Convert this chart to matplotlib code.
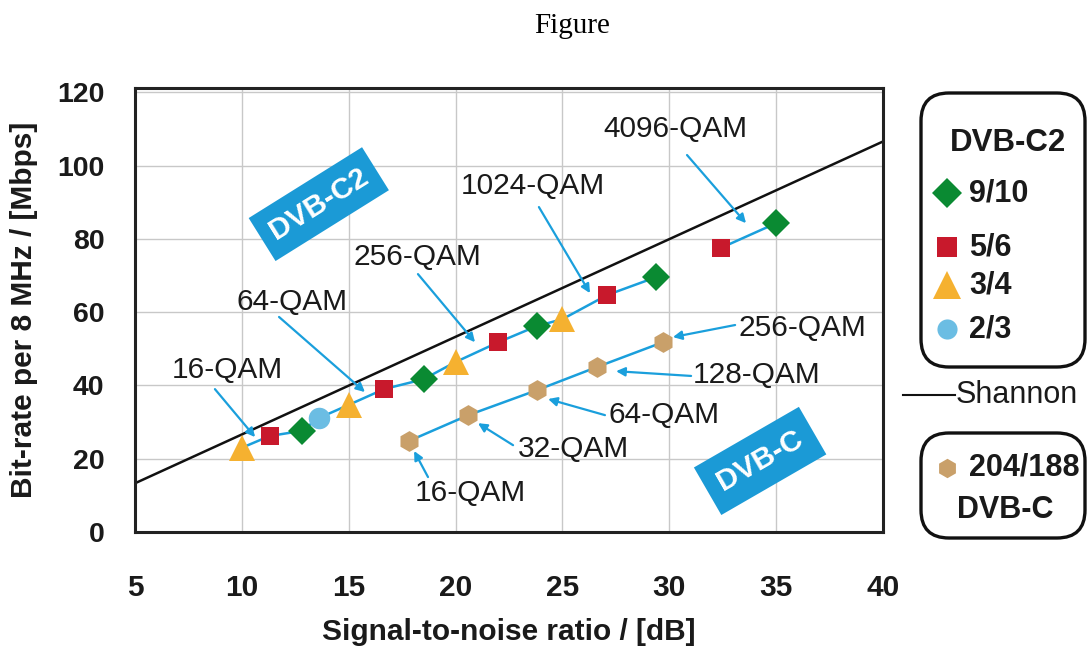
import matplotlib
matplotlib.use("Agg")
import matplotlib.pyplot as plt
from matplotlib.patches import FancyBboxPatch

plt.rcParams['font.family'] = ['Liberation Sans', 'DejaVu Sans']

# DVB-C2 operating points: SNR [dB], bit-rate [Mbps], code rate
c2_snr = [10.0, 11.3, 12.8, 13.6, 15.0, 16.65, 18.5, 20.0, 22.0, 23.8, 25.0, 27.1, 29.4, 32.4, 35.0]
c2_rate = [23.0, 26.2, 27.6, 31.1, 34.7, 39.0, 41.7, 46.4, 51.8, 56.2, 58.1, 64.7, 69.6, 77.5, 84.3]
c2_code = ['3/4', '5/6', '9/10', '2/3', '3/4', '5/6', '9/10', '3/4', '5/6', '9/10',
           '3/4', '5/6', '9/10', '5/6', '9/10']

# DVB-C operating points (204/188)
c_snr = [17.8, 20.6, 23.8, 26.6, 29.7]
c_rate = [24.8, 31.9, 38.7, 45.0, 51.8]

# Shannon limit, end points
shannon_snr = [5, 40]
shannon_rate = [13.3, 106.6]

c2_qam = ['16-QAM', '64-QAM', '256-QAM', '1024-QAM', '4096-QAM']
c_qam = ['16-QAM', '32-QAM', '64-QAM', '128-QAM', '256-QAM']

codes = ['9/10', '5/6', '3/4', '2/3']

# --- style / layout -------------------------------------------------------
blue = '#1a9fdc'
box_blue = '#1b9ad6'
txt = '#1a1a1a'
styles = {
    '9/10': dict(marker='D', color='#0a8a32', ms=14),
    '5/6': dict(marker='s', color='#c8192c', ms=13.5),
    '3/4': dict(marker='^', color='#f5b130', ms=19),
    '2/3': dict(marker='o', color='#6bbde3', ms=15.5),
}
hex_style = dict(marker='h', color='#c9a06a', ms=15)
leg_ms = {'9/10': 15, '5/6': 14, '3/4': 20, '2/3': 14.5}

# (text pos, arrow tail, arrow head) in data units
c2_ann = [((9.3, 44.2), (8.74, 39.0), (10.62, 25.9)),
          ((12.35, 62.8), (11.74, 58.7), (15.76, 38.2)),
          ((18.2, 75.0), (18.24, 70.4), (20.91, 51.8)),
          ((23.62, 94.4), (23.9, 88.7), (26.29, 65.2)),
          ((30.31, 110.0), (30.83, 102.9), (33.59, 84.3))]
c_ann = [((20.68, 10.6), (18.71, 15.0), (18.06, 22.1)),
         ((25.5, 22.6), (22.69, 23.7), (21.05, 29.7)),
         ((29.75, 31.9), (26.99, 31.9), (24.33, 36.3)),
         ((34.1, 42.8), (31.02, 42.6), (27.51, 43.9)),
         ((36.21, 55.7), (33.08, 56.5), (30.17, 53.2))]

fig = plt.figure(figsize=(10.88, 6.46), dpi=100)
ax = fig.add_axes([135/1088, 1 - 532/646, (883-135)/1088, (532-88)/646])

ax.set_xlim(5, 40)
ax.set_ylim(0, 121.2)
ax.set_xticks([5, 10, 15, 20, 25, 30, 35, 40])
ax.set_yticks([0, 20, 40, 60, 80, 100, 120])
ax.tick_params(length=0, labelcolor=txt)
ax.tick_params(axis='x', pad=30, labelsize=21.5)
ax.tick_params(axis='y', pad=22, labelsize=20.5)
for lab in ax.get_xticklabels() + ax.get_yticklabels():
    lab.set_fontweight('bold')
for sp in ax.spines.values():
    sp.set_linewidth(2.2)
    sp.set_color('#222222')
ax.grid(True, color='#c8c8c8', lw=1)
ax.set_axisbelow(True)

ax.set_xlabel('Signal-to-noise ratio / [dB]', fontsize=21.5, fontweight='bold',
              labelpad=12, color=txt)
ax.set_ylabel('Bit-rate per 8 MHz / [Mbps]', fontsize=21.5, fontweight='bold',
              labelpad=14, color=txt)

# Shannon line
ax.plot(shannon_snr, shannon_rate, color='#111111', lw=1.8, zorder=2)

# connecting lines
ax.plot(c2_snr[:13], c2_rate[:13], color=blue, lw=1.8, zorder=3)
ax.plot(c2_snr[13:], c2_rate[13:], color=blue, lw=1.8, zorder=3)
ax.plot(c_snr, c_rate, color=blue, lw=1.8, zorder=3)

for code in codes:
    st = styles[code]
    xs = [x for x, c in zip(c2_snr, c2_code) if c == code]
    ys = [y for y, c in zip(c2_rate, c2_code) if c == code]
    ax.plot(xs, ys, ls='none', marker=st['marker'], color=st['color'],
            ms=st['ms'], mew=0, zorder=4)
ax.plot(c_snr, c_rate, ls='none', marker=hex_style['marker'], color=hex_style['color'],
        ms=hex_style['ms'], mew=0, zorder=4)

arrow = dict(arrowstyle='-|>', color=blue, lw=1.6, mutation_scale=13, shrinkA=0, shrinkB=0)
for lab, (txy, tail, head) in zip(c2_qam + c_qam, c2_ann + c_ann):
    ax.annotate('', xy=head, xytext=tail, arrowprops=arrow, zorder=3)
    ax.text(txy[0], txy[1], lab, ha='center', va='center', fontsize=21.5, color=txt)

# rotated blue labels
ax.text(13.6, 89.5, 'DVB-C2', rotation=32, rotation_mode='anchor', ha='center', va='center',
        fontsize=21.5, fontweight='bold', color='white',
        bbox=dict(boxstyle='square,pad=0.38', fc=box_blue, ec='none'))
ax.text(34.25, 19.4, 'DVB-C', rotation=30, rotation_mode='anchor', ha='center', va='center',
        fontsize=21.5, fontweight='bold', color='white',
        bbox=dict(boxstyle='square,pad=0.45', fc=box_blue, ec='none'))

# overlay in pixel coordinates for title and legend
ov = fig.add_axes([0, 0, 1, 1])
ov.set_xlim(0, 1088)
ov.set_ylim(646, 0)
ov.axis('off')
ov.patch.set_alpha(0)

ov.text(572, 26, 'Figure', ha='center', va='center', fontsize=21,
        family=['Liberation Serif', 'DejaVu Serif'])

ov.add_patch(FancyBboxPatch((921, 93), 164, 274, boxstyle='round,pad=0,rounding_size=28',
                            fc='white', ec='#111111', lw=2.4))
ov.add_patch(FancyBboxPatch((921, 433), 164, 105, boxstyle='round,pad=0,rounding_size=28',
                            fc='white', ec='#111111', lw=2.4))

ov.text(1008, 143, 'DVB-C2', ha='center', va='center', fontsize=22.5, fontweight='bold',
        color=txt)
leg_y = [193, 247, 285, 329]
for code, yy in zip(codes, leg_y):
    st = styles[code]
    ov.plot([947], [yy], ls='none', marker=st['marker'], color=st['color'],
            ms=leg_ms[code], mew=0)
    ov.text(969, yy, code, ha='left', va='center', fontsize=22, fontweight='bold', color=txt)

ov.plot([903, 955], [395, 395], color='#111111', lw=1.5)
ov.text(956, 395, 'Shannon', ha='left', va='center', fontsize=22, color=txt)

ov.plot([947], [468], ls='none', marker=hex_style['marker'], color=hex_style['color'],
        ms=14, mew=0)
ov.text(969, 468, '204/188', ha='left', va='center', fontsize=22, fontweight='bold', color=txt)
ov.text(1005, 510, 'DVB-C', ha='center', va='center', fontsize=22, fontweight='bold', color=txt)

fig.savefig('out.png', dpi=100)
